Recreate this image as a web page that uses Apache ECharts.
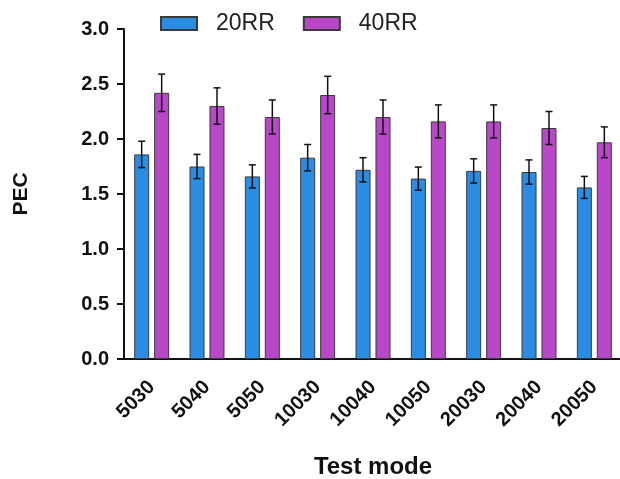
<!DOCTYPE html>
<html><head><meta charset="utf-8">
<script src="https://cdn.jsdelivr.net/npm/echarts@6/dist/echarts.min.js"></script>
<style>html,body{margin:0;padding:0;background:#fff}#c{width:620px;height:479px}</style>
</head><body><div id="c"></div>
<script>
var categories = ['5030','5040','5050','10030','10040','10050','20030','20040','20050'];
var seriesNames = ['20RR','40RR'];
var rr20 = [1.86,1.75,1.66,1.83,1.72,1.64,1.71,1.70,1.56];
var rr20Err = [0.12,0.11,0.105,0.12,0.11,0.105,0.11,0.11,0.10];
var rr40 = [2.42,2.30,2.20,2.40,2.20,2.16,2.16,2.10,1.97];
var rr40Err = [0.17,0.165,0.155,0.17,0.155,0.15,0.15,0.15,0.14];
var yTicks = [0,0.5,1.0,1.5,2.0,2.5,3.0];

var chart = echarts.init(document.getElementById('c'));
var font = 'Liberation Sans, Arial, sans-serif';

function errData(vals, errs){
  return vals.map(function(v,i){ return [i, v-errs[i], v+errs[i]]; });
}
function errSeries(vals, errs, offset){
  return {
    type:'custom', z:10, silent:true,
    data: errData(vals, errs),
    encode:{x:0, y:[1,2]},
    renderItem: function(params, api){
      var lo = api.coord([api.value(0), api.value(1)]);
      var hi = api.coord([api.value(0), api.value(2)]);
      var x = lo[0] + offset, cap = 3.5;
      var st = {stroke:'#111', lineWidth:1.5};
      return {type:'group', children:[
        {type:'line', shape:{x1:x,y1:lo[1],x2:x,y2:hi[1]}, style:st},
        {type:'line', shape:{x1:x-cap,y1:hi[1],x2:x+cap,y2:hi[1]}, style:st},
        {type:'line', shape:{x1:x-cap,y1:lo[1],x2:x+cap,y2:lo[1]}, style:st}
      ]};
    }
  };
}

chart.setOption({
  animation:false,
  backgroundColor:'#fff',
  legend:{
    data:seriesNames, left:155, top:7, icon:'rect', itemWidth:36, itemHeight:13, itemGap:28,
    textStyle:{fontFamily:font, fontSize:23, color:'#222', padding:[0,0,0,14]}
  },
  grid:{left:124, right:-2, top:29, bottom:120, outerBoundsMode:'none', containLabel:false},
  xAxis:{
    type:'category', data:categories,
    name:'Test mode', nameLocation:'middle', nameGap:96,
    nameTextStyle:{fontFamily:font, fontSize:24, fontWeight:'bold', color:'#111'},
    axisLine:{lineStyle:{color:'#111', width:2}},
    axisTick:{alignWithLabel:true, length:7, lineStyle:{color:'#111', width:2}},
    axisLabel:{rotate:45, margin:25, fontFamily:font, fontSize:20, fontWeight:'bold', color:'#111', interval:0}
  },
  yAxis:{
    type:'value', min:0, max:3, interval:0.5,
    name:'PEC', nameLocation:'middle', nameGap:92,
    nameTextStyle:{fontFamily:font, fontSize:21, fontWeight:'bold', color:'#111'},
    axisLine:{show:true, lineStyle:{color:'#111', width:2}},
    axisTick:{show:true, length:7, lineStyle:{color:'#111', width:2}},
    splitLine:{show:false},
    axisLabel:{margin:15, fontFamily:font, fontSize:20, fontWeight:'bold', color:'#111',
      formatter:function(v){ return v.toFixed(1); }}
  },
  series:[
    {name:seriesNames[0], type:'bar', data:rr20, barWidth:15, barGap:'33%',
      itemStyle:{color:'#2a8ce2', borderColor:'#3a3a3a', borderWidth:1}},
    {name:seriesNames[1], type:'bar', data:rr40, barWidth:15, barGap:'33%',
      itemStyle:{color:'#b848c8', borderColor:'#3a3a3a', borderWidth:1}},
    errSeries(rr20, rr20Err, -10),
    errSeries(rr40, rr40Err, 10)
  ]
});
</script></body></html>
